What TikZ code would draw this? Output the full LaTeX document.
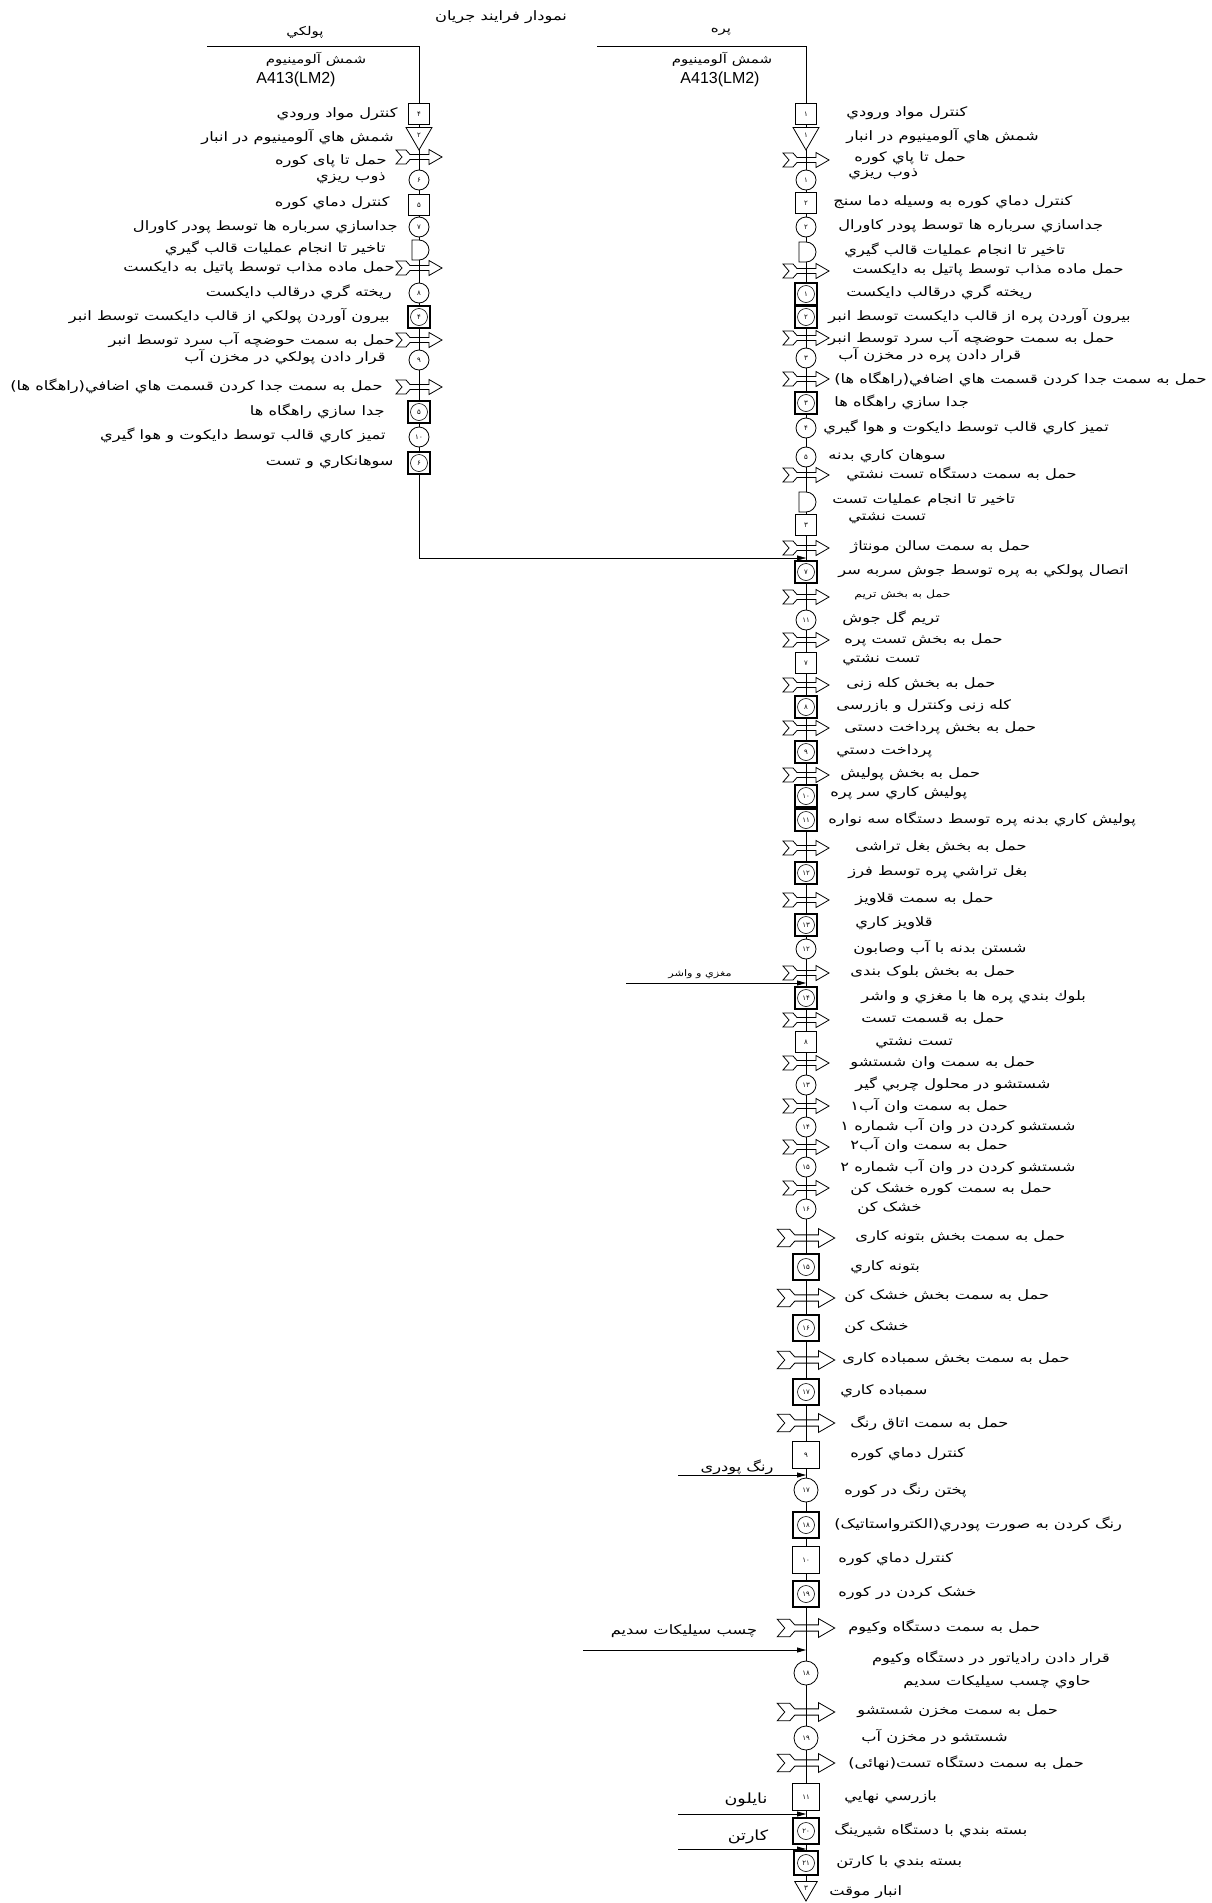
\documentclass[tikz,border=0pt]{standalone}
\usepackage{fontspec}
\setmainfont{Liberation Sans}
\newfontfamily\fa[Script=Arabic]{DejaVu Sans}
\newfontfamily\fawide[Script=Arabic,FakeStretch=1.25]{DejaVu Sans}
\TeXXeTstate=1
\usetikzlibrary{shapes.geometric,arrows.meta,backgrounds}

\newcommand{\colL}{419}
\newcommand{\colR}{806}

\tikzset{
  sym/.style={draw, fill=white, inner sep=0pt, font=\fa\fontsize{7}{7}\selectfont},
  opsym/.style={sym, circle, minimum size=20pt},
  inspsym/.style={sym, rectangle, minimum size=21pt},
  combsym/.style={sym, rectangle, minimum size=22pt, line width=1.6pt},
  combin/.style={sym, circle, fill=none, minimum size=17pt, line width=0.6pt},
  storesym/.style={sym, regular polygon, regular polygon sides=3, shape border rotate=180, minimum size=30pt},
  delaysym/.style={draw, fill=white},
  carrysym/.style={draw, line join=miter},
  rtext/.style={anchor=west, inner sep=0pt, font=\fawide\fontsize{13}{15}\selectfont,
    execute at begin node=\beginR, execute at end node=\endR},
  ltext/.style={rtext, anchor=east},
  headtext/.style={rtext, anchor=center, font=\fawide\fontsize{12}{14}\selectfont},
  feed/.style={-{Triangle[length=9pt,width=5pt]}},
}

\newcommand{\opAt}[5][]{\node[opsym,#1] (#2) at (#3,#4) {#5};}
\newcommand{\inspAt}[5][]{\node[inspsym,#1] (#2) at (#3,#4) {#5};}
\newcommand{\combAt}[5][]{\node[combsym,#1] (#2) at (#3,#4) {};
  \node[combin] (#2c) at (#2) {#5};}
\newcommand{\storeAt}[5][]{\node[storesym,#1] (#2) at (#3,#4) {#5};}
\newcommand{\delayAt}[3]{\coordinate (#1) at (#2,#3);
  \draw[delaysym, shift={(#1)}] (-7,-10) -- (-7,10) -- (0,10) arc[start angle=90,end angle=-90,radius=10] -- cycle;}
\newcommand{\carryAt}[4][]{\coordinate (#2) at (#3,#4);
  \draw[carrysym, shift={(#2)}, #1] (-23,-7) -- (-13,-7) -- (-9,-2.5) -- (10,-2.5) -- (10,-7.5) -- (23,0)
    -- (10,7.5) -- (10,2.5) -- (-9,2.5) -- (-13,7) -- (-23,7) -- (-17,0) -- cycle;}

\begin{document}
\begin{tikzpicture}[x=1pt, y=-1pt, line width=0.8pt]
  \useasboundingbox (0,0) rectangle (1211,1903);

  % headings
  \node[rtext, anchor=center] (title) at (501,17) {نمودار فرايند جريان};
  \node[headtext] (hdL) at (305,32) {پولكي};
  \node[headtext] (hdLa) at (316,59) {شمش آلومينيوم};
  \node[font=\fontsize{16}{18}\selectfont, inner sep=0pt] (hdLb) at (296,79) {A413(LM2)};
  \node[headtext] (hdR) at (721,32) {پره};
  \node[headtext] (hdRa) at (722,59) {شمش آلومينيوم};
  \node[font=\fontsize{16}{18}\selectfont, inner sep=0pt] (hdRb) at (720,79) {A413(LM2)};
  \coordinate (hLs) at (207,46);
  \coordinate (hL) at (\colL,46);
  \coordinate (jL) at (\colL,558);
  \coordinate (jR) at (\colR,558);
  \coordinate (hRs) at (597,46);
  \coordinate (hR) at (\colR,46);

  % left column
  \inspAt{L1}{\colL}{114}{۴}        \node[ltext] (tL1) at (398,114) {کنترل مواد ورودي};
  \storeAt{L2}{\colL}{135}{۲}       \node[ltext] (tL2) at (394,137) {شمش هاي آلومينيوم در انبار};
  \carryAt{L3}{\colL}{157}          \node[ltext] (tL3) at (387,161) {حمل تا پای کوره};
  \opAt{L4}{\colL}{180}{۶}          \node[ltext] (tL4) at (386,178) {ذوب ريزي};
  \inspAt{L5}{\colL}{205}{۵}        \node[ltext] (tL5) at (390,203) {کنترل دماي کوره};
  \opAt{L6}{\colL}{227}{۷}          \node[ltext] (tL6) at (398,227) {جداسازي سرباره ها توسط پودر کاورال};
  \delayAt{L7}{\colL}{250}          \node[ltext] (tL7) at (386,248) {تاخير تا انجام عمليات قالب گيري};
  \carryAt{L8}{\colL}{268}          \node[ltext] (tL8) at (395,268) {حمل ماده مذاب توسط پاتيل به دايكست};
  \opAt{L9}{\colL}{293}{۸}          \node[ltext] (tL9) at (392,292) {ريخته گري درقالب دايکست};
  \combAt{L10}{\colL}{317}{۴}       \node[ltext] (tL10) at (390,316) {بيرون آوردن پولكي از قالب دايكست توسط انبر};
  \carryAt{L11}{\colL}{340}         \node[ltext] (tL11) at (395,340) {حمل به سمت حوضچه آب سرد توسط انبر};
  \opAt{L12}{\colL}{360}{۹}         \node[ltext] (tL12) at (386,357) {قرار دادن پولکي در مخزن آب};
  \carryAt{L13}{\colL}{387}         \node[ltext] (tL13) at (383,386) {حمل به سمت جدا کردن قسمت هاي اضافي(راهگاه ها)};
  \combAt{L14}{\colL}{412}{۵}       \node[ltext] (tL14) at (385,411) {جدا سازي راهگاه ها};
  \opAt{L15}{\colL}{437}{۱۰}        \node[ltext] (tL15) at (386,435) {تميز کاري قالب توسط دايکوت و هوا گيري};
  \combAt{L16}{\colL}{463}{۶}       \node[ltext] (tL16) at (394,462) {سوهانکاري و تست};

  % right column
  \inspAt{R1}{\colR}{114}{۱}        \node[rtext] (tR1) at (846,113) {کنترل مواد ورودي};
  \storeAt{R2}{\colR}{135}{۱}       \node[rtext] (tR2) at (846,136) {شمش هاي آلومينيوم در انبار};
  \carryAt{R3}{\colR}{160}          \node[rtext] (tR3) at (854,158) {حمل تا پاي كوره};
  \opAt{R4}{\colR}{180}{۱}          \node[rtext] (tR4) at (848,174) {ذوب ريزي};
  \inspAt{R5}{\colR}{203}{۲}        \node[rtext] (tR5) at (833,202) {کنترل دماي کوره به وسيله دما سنج};
  \opAt{R6}{\colR}{227}{۲}          \node[rtext] (tR6) at (838,226) {جداسازي سرباره ها توسط پودر کاورال};
  \delayAt{R7}{\colR}{252}          \node[rtext] (tR7) at (844,250) {تاخير تا انجام عمليات قالب گيري};
  \carryAt{R8}{\colR}{271}          \node[rtext] (tR8) at (852,270) {حمل ماده مذاب توسط پاتيل به دايكست};
  \combAt{R9}{\colR}{294}{۱}        \node[rtext] (tR9) at (846,292) {ريخته گري درقالب دايکست};
  \combAt{R10}{\colR}{317}{۲}       \node[rtext] (tR10) at (828,316) {بيرون آوردن پره از قالب دايكست توسط انبر};
  \carryAt{R11}{\colR}{338}         \node[rtext] (tR11) at (828,338) {حمل به سمت حوضچه آب سرد توسط انبر};
  \opAt{R12}{\colR}{358}{۳}         \node[rtext] (tR12) at (838,355) {قرار دادن پره در مخزن آب};
  \carryAt{R13}{\colR}{379}         \node[rtext] (tR13) at (834,379) {حمل به سمت جدا کردن قسمت هاي اضافي(راهگاه ها)};
  \combAt{R14}{\colR}{403}{۳}       \node[rtext] (tR14) at (834,402) {جدا سازي راهگاه ها};
  \opAt{R15}{\colR}{428}{۴}         \node[rtext] (tR15) at (823,427) {تميز کاري قالب توسط دايکوت و هوا گيري};
  \opAt{R16}{\colR}{457}{۵}         \node[rtext] (tR16) at (828,456) {سوهان کاري بدنه};
  \carryAt{R17}{\colR}{475}         \node[rtext] (tR17) at (846,474) {حمل به سمت دستگاه تست نشتي};
  \delayAt{R18}{\colR}{502}         \node[rtext] (tR18) at (832,500) {تاخير تا انجام عمليات تست};
  \inspAt{R19}{\colR}{525}{۳}       \node[rtext] (tR19) at (848,518) {تست نشتي};
  \carryAt{R20}{\colR}{548}         \node[rtext] (tR20) at (850,547) {حمل به سمت سالن مونتاژ};
  \combAt{R21}{\colR}{572}{۷}       \node[rtext] (tR21) at (838,571) {اتصال پولكي به پره توسط جوش سربه سر};
  \carryAt{R22}{\colR}{597}         \node[rtext, font=\fawide\fontsize{10}{12}\selectfont] (tR22) at (854,595) {حمل به بخش تريم};
  \opAt{R23}{\colR}{620}{۱۱}        \node[rtext] (tR23) at (842,618) {تريم گل جوش};
  \carryAt{R24}{\colR}{640}         \node[rtext] (tR24) at (844,640) {حمل به بخش تست پره};
  \inspAt{R25}{\colR}{663}{۷}       \node[rtext] (tR25) at (842,660) {تست نشتي};
  \carryAt{R26}{\colR}{685}         \node[rtext] (tR26) at (846,684) {حمل به بخش کله زنی};
  \combAt{R27}{\colR}{707}{۸}       \node[rtext] (tR27) at (836,706) {کله زنی وکنترل و بازرسی};
  \carryAt{R28}{\colR}{728}         \node[rtext] (tR28) at (844,728) {حمل به بخش پرداخت دستی};
  \combAt{R29}{\colR}{752}{۹}       \node[rtext] (tR29) at (836,751) {پرداخت دستي};
  \carryAt{R30}{\colR}{775}         \node[rtext] (tR30) at (840,774) {حمل به بخش پوليش};
  \combAt{R31}{\colR}{796}{۱۰}      \node[rtext] (tR31) at (830,793) {پوليش کاري سر پره};
  \combAt{R32}{\colR}{820}{۱۱}      \node[rtext] (tR32) at (828,819) {پوليش کاري بدنه پره توسط دستگاه سه نواره};
  \carryAt{R33}{\colR}{848}         \node[rtext] (tR33) at (855,847) {حمل به بخش بغل تراشی};
  \combAt{R34}{\colR}{873}{۱۲}      \node[rtext] (tR34) at (848,872) {بغل تراشي پره توسط فرز};
  \carryAt{R35}{\colR}{900}         \node[rtext] (tR35) at (855,899) {حمل به سمت قلاويز};
  \combAt{R36}{\colR}{925}{۱۳}      \node[rtext] (tR36) at (855,923) {قلاويز کاري};
  \opAt{R37}{\colR}{949}{۱۲}        \node[rtext] (tR37) at (853,948) {شستن بدنه با آب وصابون};
  \carryAt{R38}{\colR}{973}         \node[rtext] (tR38) at (850,972) {حمل به بخش بلوک بندی};
  \combAt{R39}{\colR}{998}{۱۴}      \node[rtext] (tR39) at (861,997) {بلوك بندي پره ها با مغزي و واشر};
  \carryAt{R40}{\colR}{1020}        \node[rtext] (tR40) at (861,1019) {حمل به قسمت تست};
  \inspAt{R41}{\colR}{1042}{۸}      \node[rtext] (tR41) at (875,1043) {تست نشتي};
  \carryAt{R42}{\colR}{1063}        \node[rtext] (tR42) at (850,1063) {حمل به سمت وان شستشو};
  \opAt{R43}{\colR}{1085}{۱۳}       \node[rtext] (tR43) at (855,1084) {شستشو در محلول چربي گير};
  \carryAt{R44}{\colR}{1106}        \node[rtext] (tR44) at (850,1106) {حمل به سمت وان آب۱};
  \opAt{R45}{\colR}{1127}{۱۴}       \node[rtext] (tR45) at (840,1126) {شستشو کردن در وان آب شماره ۱};
  \carryAt{R46}{\colR}{1147}        \node[rtext] (tR46) at (850,1145) {حمل به سمت وان آب۲};
  \opAt{R47}{\colR}{1167}{۱۵}       \node[rtext] (tR47) at (840,1167) {شستشو کردن در وان آب شماره ۲};
  \carryAt{R48}{\colR}{1188}        \node[rtext] (tR48) at (850,1189) {حمل به سمت کوره خشک کن};
  \opAt{R49}{\colR}{1209}{۱۶}       \node[rtext] (tR49) at (857,1208) {خشک کن};
  \carryAt[scale=1.25]{R50}{\colR}{1238} \node[rtext] (tR50) at (855,1237) {حمل به سمت بخش بتونه کاری};
  \combAt[minimum size=26pt]{R51}{\colR}{1267}{۱۵} \node[rtext] (tR51) at (850,1267) {بتونه کاري};
  \carryAt[scale=1.25]{R52}{\colR}{1298} \node[rtext] (tR52) at (844,1296) {حمل به سمت بخش خشک کن};
  \combAt[minimum size=26pt]{R53}{\colR}{1328}{۱۶} \node[rtext] (tR53) at (844,1327) {خشک کن};
  \carryAt[scale=1.25]{R54}{\colR}{1360} \node[rtext] (tR54) at (842,1359) {حمل به سمت بخش سمباده کاری};
  \combAt[minimum size=26pt]{R55}{\colR}{1392}{۱۷} \node[rtext] (tR55) at (840,1391) {سمباده کاري};
  \carryAt[scale=1.25]{R56}{\colR}{1423} \node[rtext] (tR56) at (850,1423) {حمل به سمت اتاق رنگ};
  \inspAt[minimum size=27pt]{R57}{\colR}{1455}{۹} \node[rtext] (tR57) at (850,1454) {کنترل دماي کوره};
  \opAt[minimum size=24pt]{R58}{\colR}{1490}{۱۷} \node[rtext] (tR58) at (844,1490) {پختن رنگ در کوره};
  \combAt[minimum size=26pt]{R59}{\colR}{1525}{۱۸} \node[rtext] (tR59) at (834,1524) {رنگ کردن به صورت پودري(الکترواستاتيک)};
  \inspAt[minimum size=27pt]{R60}{\colR}{1560}{۱۰} \node[rtext] (tR60) at (838,1559) {کنترل دماي کوره};
  \combAt[minimum size=26pt]{R61}{\colR}{1594}{۱۹} \node[rtext] (tR61) at (838,1593) {خشک کردن در کوره};
  \carryAt[scale=1.25]{R62}{\colR}{1628} \node[rtext] (tR62) at (848,1627) {حمل به سمت دستگاه وکيوم};
  \opAt[minimum size=24pt]{R63}{\colR}{1673}{۱۸}
  \node[rtext, anchor=center] (tR63a) at (991,1658) {قرار دادن رادياتور در دستگاه وکيوم};
  \node[rtext, anchor=center] (tR63b) at (997,1682) {حاوي چسب سيليكات سديم};
  \carryAt[scale=1.25]{R64}{\colR}{1712} \node[rtext] (tR64) at (857,1711) {حمل به سمت مخزن شستشو};
  \opAt[minimum size=24pt]{R65}{\colR}{1738}{۱۹} \node[rtext] (tR65) at (861,1737) {شستشو در مخزن آب};
  \carryAt[scale=1.25]{R66}{\colR}{1763} \node[rtext] (tR66) at (848,1763) {حمل به سمت دستگاه تست(نهائی)};
  \inspAt[minimum size=27pt]{R67}{\colR}{1797}{۱۱} \node[rtext] (tR67) at (844,1797) {بازرسي نهايي};
  \combAt[minimum size=26pt]{R68}{\colR}{1831}{۲۰} \node[rtext] (tR68) at (834,1830) {بسته بندي با دستگاه شيرينگ};
  \combAt[minimum size=24pt]{R69}{\colR}{1863}{۲۱} \node[rtext] (tR69) at (836,1862) {بسته بندي با کارتن};
  \storeAt[minimum size=26pt]{R70}{\colR}{1888}{۳} \node[rtext] (tR70) at (829,1892) {انبار موقت};

  % materials fed into the line
  \coordinate (fMw) at (626,983);   \coordinate (eMw) at (\colR,983);
  \draw[feed] (fMw) -- (eMw);
  \node[rtext, anchor=center, font=\fawide\fontsize{9}{10}\selectfont] (lMw) at (700,974) {مغزي و واشر};
  \coordinate (fRp) at (678,1475);  \coordinate (eRp) at (\colR,1475);
  \draw[feed] (fRp) -- (eRp);
  \node[rtext, anchor=center] (lRp) at (737,1467) {رنگ پودری};
  \coordinate (fCh) at (583,1650);  \coordinate (eCh) at (\colR,1650);
  \draw[feed] (fCh) -- (eCh);
  \node[rtext, anchor=center] (lCh) at (684,1631) {چسب سيليكات سديم};
  \coordinate (fNy) at (678,1814);  \coordinate (eNy) at (\colR,1814);
  \draw[feed] (fNy) -- (eNy);
  \node[rtext, anchor=center, font=\fawide\fontsize{14}{16}\selectfont] (lNy) at (746,1800) {نايلون};
  \coordinate (fKa) at (678,1849);  \coordinate (eKa) at (\colR,1849);
  \draw[feed] (fKa) -- (eKa);
  \node[rtext, anchor=center, font=\fawide\fontsize{14}{16}\selectfont] (lKa) at (748,1837) {کارتن};

  % flow lines
  \begin{pgfonlayer}{background}
    \draw (hLs) -- (hL) -- (jL);
    \draw[feed] (jL) -- (jR);
    \draw (hRs) -- (hR) -- (R70.center);
  \end{pgfonlayer}
\end{tikzpicture}
\end{document}
